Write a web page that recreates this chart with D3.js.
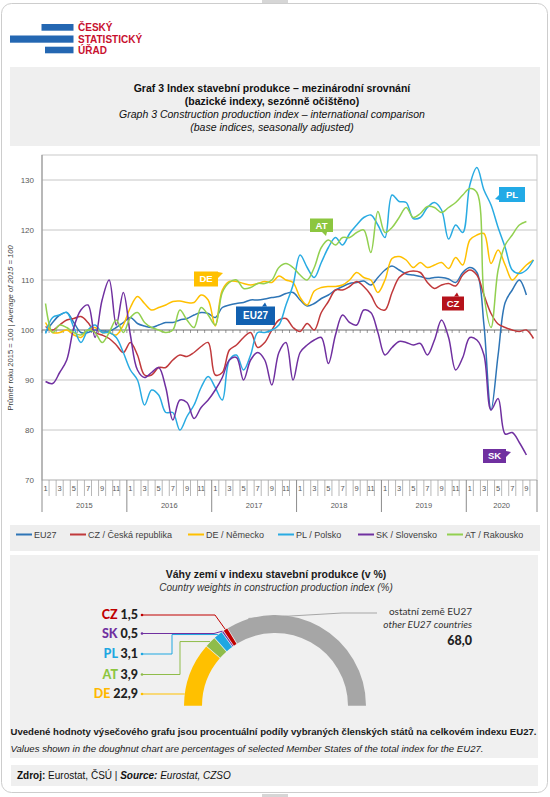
<!DOCTYPE html>
<html><head><meta charset="utf-8">
<script src="https://cdn.jsdelivr.net/npm/d3@7"></script>
<style>
html,body{margin:0;padding:0;background:#fff;}
svg{display:block;font-family:"Liberation Sans",Arial,sans-serif;}
</style></head><body>
<svg id="c" width="550" height="797"></svg>
<script>
// ---------- DATA ----------
const years = ["2015","2016","2017","2018","2019","2020"];
const monthsInYear = [12,12,12,12,12,10];
const yTicks = [70,80,90,100,110,120,130];

const eu27 = [99.5,101.5,103,103.5,101.5,99.5,99.5,100,99.8,99.8,
  100.5,101.5,102.5,101.3,100.8,100.5,101,101.5,101.5,102,
  102.3,103,103.5,103.3,102.5,104.5,105,105.3,105.5,106,
  106,106.2,106.5,106.7,107.3,107.5,106,104.8,105.3,106.3,
  107,108,108.7,109.3,109.5,109.8,109,110.5,112,112.8,
  112,111.2,111,110.7,110.3,110.5,110.5,110.2,109.5,111.5,
  112.5,111.5,101,84,95,105.5,108,110,107,null];
const cz = [100.7,100,101,102,102.3,102.7,101.5,99.5,99,98.3,
  97,95.5,97.5,95,91,91,92.5,92.5,94,95,
  94.7,95.5,96.7,97.5,91,91.5,96,97,98.5,99.5,
  96.5,97.5,100,102,102.3,100.5,99.7,101.3,100,103.5,
  105.7,108,108,108.7,109.7,108.7,107,104.5,104,107.5,
  110.5,111.5,111.8,111.5,109.5,108.3,109,109.3,108.8,111,
  112,111,107,103.3,101.2,100.5,100,99.7,100,98.3];
const de = [101.5,99.5,99.5,100,99,98.5,100,100.5,99.5,99.5,
  99,101,104.5,106.7,105.3,104,104.5,105,105.7,105.8,
  105.5,105.5,107,106,100.8,108,109.7,109.7,109.3,109,
  109.3,109.7,109.5,110.8,110,109.5,106.5,105,107.8,108.5,
  108.7,108.7,109,110,111.5,110.5,110,107.5,110,114.3,
  114.7,114,112.5,113.5,112.5,113,113.5,112.3,114.5,113,
  118,119,119.3,113.3,116,113,110,111.5,113,114];
const pl = [99.3,102.5,103,103.5,100.5,97.5,100,101,99.5,99.5,
  98.5,95.5,92,90,85,88,87,83.5,83.5,80,
  82.7,85,88.5,90.7,88.5,86,94,95,92,95,
  99.5,99.5,100,101,105,109,115,112.5,110.5,113.5,
  116.5,118.5,117,119.3,121,122.5,123,121,118.5,127,
  125.7,125.5,122.3,122.5,124.5,125.5,124,118.2,121,119.5,
  129,132.5,128,125,120.5,116.5,112,111.3,112,114];
const sk = [89.7,89.3,91.5,94,100.5,104,105,98.5,106,110,
  101,107.5,99,92,90.5,91.5,92.5,88.5,82,86,
  85.5,82.3,84.5,86,88,90.5,94,94.5,90,94,
  95.5,94,89,95.5,97.5,90,95.5,97,98,98.5,
  93.3,99,103,101.5,101,104,103.5,99.5,95,96.5,
  97.7,97.5,97,97.3,95,98,102,98.5,92,94.5,
  98.5,98,95,84,86.3,79.2,79.5,77.5,75,null];
const at = [105.3,99.5,101,100.5,99.5,99,100,99.5,97.5,99.5,
  102,99.5,102.5,103.5,101.5,100.5,100,99.5,100,104,
  102,100.5,104.5,103,101,107.5,109.5,110,108.3,108.5,
  109.3,109.3,110,112.5,113.3,112.5,111,110,112.5,116.5,
  118,117,118.5,118.5,119.5,120,115.5,123.7,119.5,120.5,
  122.5,124.5,122.5,123.3,124.7,124.5,123.5,124.5,125.5,127,
  128.3,127.5,107,100.5,112,117,119,121,121.7,null];

const seriesNames = ["EU27","CZ / Česká republika","DE / Německo","PL / Polsko","SK / Slovensko","AT / Rakousko"];
const seriesColors = ["#2e75b6","#c0393b","#ffc000","#29abe2","#7030a0","#92d050"];
const seriesData = [eu27, cz, de, pl, sk, at];
const calloutText = ["EU27","CZ","DE","PL","SK","AT"];
const calloutColors = ["#1160b0","#b5121b","#ffc000","#22aae6","#7030a0","#8cc63f"];

const weightCodes = ["DE","AT","PL","SK","CZ","other"];
const weightValues = [22.9,3.9,3.1,0.5,1.5,68.0];
const weightText = ["22,9","3,9","3,1","0,5","1,5","68,0"];
const weightColors = ["#ffc000","#8fbc4a","#1ea7e1","#7030a0","#c00000","#a6a6a6"];

// ---------- SETUP ----------
const svg = d3.select("#c");
const categories = years.flatMap((yr,k)=> d3.range(1, monthsInYear[k]+1).map(m => yr + "-" + m));

// outer card
svg.append("rect").attr("x",262).attr("y",0).attr("width",26).attr("height",3).attr("fill","#d6d6d6");
svg.append("rect").attr("x",262).attr("y",794).attr("width",26).attr("height",3).attr("fill","#d6d6d6");
svg.append("rect").attr("x",1.5).attr("y",3.5).attr("width",546).attr("height",789).attr("rx",10)
  .attr("fill","#fff").attr("stroke","#cdcdcd");

// logo
const logo = svg.append("g");
[[41.5,24,32,6.7],[10,35.5,63.5,7.2],[45,46.7,28.5,6.6]].forEach(b=>{
  logo.append("rect").attr("x",b[0]).attr("y",b[1]).attr("width",b[2]).attr("height",b[3]).attr("fill","#2467b2");
});
[["ČESKÝ",30.8],["STATISTICKÝ",42.6],["ÚŘAD",53.6]].forEach(t=>{
  logo.append("text").attr("x",78).attr("y",t[1]).text(t[0]).attr("font-size",10).attr("font-weight","bold").attr("fill","#c8102e");
});

// title panel
svg.append("rect").attr("x",10).attr("y",67).attr("width",530).attr("height",79).attr("fill","#efefef");
const titles = [
  ["Graf 3 Index stavební produkce – mezinárodní srovnání", 91.5, "bold", "normal"],
  ["(bazické indexy, sezónně očištěno)", 104.5, "bold", "normal"],
  ["Graph 3 Construction production index – international comparison", 118, "normal", "italic"],
  ["(base indices, seasonally adjusted)", 131, "normal", "italic"]
];
titles.forEach(t=>{
  svg.append("text").attr("x",272).attr("y",t[1]).attr("text-anchor","middle")
    .attr("font-size",10.5).attr("font-weight",t[2]).attr("font-style",t[3]).attr("fill","#111").text(t[0]);
});

// ---------- LINE CHART ----------
const L=42, R=537, T=155, B=480;
const x = d3.scaleBand().domain(categories).range([L,R]).padding(0);
const y = d3.scaleLinear().domain([70,135]).range([B,T]);
const g = svg.append("g");

// gridlines
yTicks.forEach(v=>{
  if (v===100) return;
  g.append("line").attr("x1",L).attr("x2",R).attr("y1",y(v)).attr("y2",y(v))
    .attr("stroke","#c6c6c6").attr("stroke-width",1);
});
g.append("rect").attr("x",L).attr("y",T).attr("width",R-L).attr("height",B-T)
  .attr("fill","none").attr("stroke","#c9c9c9");
// y axis line
g.append("line").attr("x1",L).attr("x2",L).attr("y1",T).attr("y2",B).attr("stroke","#8c8c8c");
// y labels
yTicks.forEach(v=>{
  g.append("text").attr("x",34).attr("y",y(v)).attr("dy","0.35em").attr("text-anchor","end")
    .attr("font-size",8).attr("fill","#595959").text(v);
});
// y title
const yt = g.append("text").attr("transform","translate(13,328) rotate(-90)").attr("text-anchor","middle")
  .attr("font-size",7.6).attr("fill","#404040");
yt.append("tspan").text("Průměr roku 2015 = 100 | ");
yt.append("tspan").attr("font-style","italic").text("Average of 2015 = 100");

// x-axis category labels and separators
const bw = x.bandwidth();
categories.forEach((c,i)=>{
  const x0 = x(c);
  const m = +c.split("-")[1];
  if (m % 2 === 1) {
    g.append("text").attr("x",x0+bw/2).attr("y",491).attr("text-anchor","middle")
      .attr("font-size",7.5).attr("fill","#595959").text(m);
  }
  const yearStart = (m===1);
  g.append("line").attr("x1",x0).attr("x2",x0).attr("y1",B).attr("y2",yearStart?512:496)
    .attr("stroke",yearStart?"#8c8c8c":"#a6a6a6").attr("stroke-width",yearStart?1:0.8);
  // minor ticks on 100 line
  g.append("line").attr("x1",x0).attr("x2",x0).attr("y1",y(100)).attr("y2",y(100)+3)
    .attr("stroke","#7f7f7f").attr("stroke-width",0.8);
});
g.append("line").attr("x1",R).attr("x2",R).attr("y1",B).attr("y2",512).attr("stroke","#8c8c8c");
years.forEach((yr,k)=>{
  const first = x(yr+"-1");
  const last = x(yr+"-"+monthsInYear[k]) + bw;
  g.append("text").attr("x",(first+last)/2).attr("y",507.5).attr("text-anchor","middle")
    .attr("font-size",7.5).attr("fill","#595959").text(yr);
});
// 100 line
g.append("line").attr("x1",L).attr("x2",R).attr("y1",y(100)).attr("y2",y(100))
  .attr("stroke","#6f6f6f").attr("stroke-width",1.1);

// series lines
const line = d3.line()
  .defined(d=>d!=null)
  .x((d,i)=>x(categories[i])+bw/2)
  .y(d=>y(d))
  .curve(d3.curveCatmullRom.alpha(0.5));
seriesData.forEach((s,k)=>{
  g.append("path").attr("d",line(s)).attr("fill","none").attr("stroke",seriesColors[k])
    .attr("stroke-width",1.5).attr("stroke-linejoin","round");
});

// callouts: [index, x, y, w, h, pointer side]
const callouts = [
  [0, 236, 306.5, 39, 18.5, "top", 266],
  [1, 442, 296.5, 22, 14, "top", 458],
  [2, 194, 271.5, 24, 15, "right", 275],
  [3, 499, 187, 26, 15, "left", 199],
  [4, 483, 449, 23, 14, "right", 454],
  [5, 310, 218.5, 23, 13.5, "bottom", 326]
];
callouts.forEach(c=>{
  const [k,bx,by,w,h,side,p] = c;
  const col = calloutColors[k];
  g.append("rect").attr("x",bx).attr("y",by).attr("width",w).attr("height",h).attr("fill",col);
  let tri;
  if (side==="top") tri = [[p-4,by],[p+1,by],[p-1,by-4]];
  else if (side==="bottom") tri = [[p-4,by+h],[p+1,by+h],[p,by+h+4]];
  else if (side==="right") tri = [[bx+w,p-3],[bx+w,p+3],[bx+w+5,p-2]];
  else tri = [[bx,p-4],[bx,p+1],[bx-4,p]];
  g.append("path").attr("d","M"+tri.map(t=>t.join(",")).join("L")+"Z").attr("fill",col);
  g.append("text").attr("x",bx+w/2).attr("y",by+h/2).attr("dy","0.36em").attr("text-anchor","middle")
    .attr("font-size",k===0?10:9.5).attr("font-weight","bold").attr("fill","#fff").text(calloutText[k]);
});

// legend
svg.append("rect").attr("x",10).attr("y",525).attr("width",530).attr("height",26).attr("fill","#eeeeee");
const legX = [16,70,188,278,358,447];
seriesNames.forEach((n,k)=>{
  svg.append("line").attr("x1",legX[k]).attr("x2",legX[k]+16).attr("y1",534.5).attr("y2",534.5)
    .attr("stroke",seriesColors[k]).attr("stroke-width",2);
  svg.append("text").attr("x",legX[k]+18).attr("y",534.5).attr("dy","0.35em")
    .attr("font-size",9).attr("fill","#404040").text(n);
});

// ---------- DOUGHNUT ----------
svg.append("rect").attr("x",10).attr("y",555).attr("width",528).attr("height",203).attr("fill","#f0f0f0");
svg.append("text").attr("x",276).attr("y",577.5).attr("text-anchor","middle").attr("font-size",10.5)
  .attr("font-weight","bold").attr("fill","#1a1a1a").text("Váhy zemí v indexu stavební produkce (v %)");
svg.append("text").attr("x",276).attr("y",590.5).attr("text-anchor","middle").attr("font-size",10)
  .attr("font-style","italic").attr("fill","#333").text("Country weights in construction production index (%)");

const cx=275, cy=706, Ro=91, Ri=73;
const pie = d3.pie().sort(null).startAngle(-Math.PI/2).endAngle(Math.PI/2).padAngle(0.006);
const arcs = pie(weightValues);
const arc = d3.arc().innerRadius(Ri).outerRadius(Ro);
const dg = svg.append("g").attr("transform",`translate(${cx},${cy})`);
dg.selectAll("path").data(arcs).join("path").attr("d",arc).attr("fill",(d,i)=>weightColors[i]);

function outerPt(a){ return [cx + (Ro+0.5)*Math.sin(a), cy - (Ro+0.5)*Math.cos(a)]; }
const mid = d => (d.startAngle+d.endAngle)/2;
const labelY = {CZ:615, SK:633.5, PL:654, AT:674.5, DE:694};
const leaders = [];
// DE
leaders.push([0, `M142,${labelY.DE}H${cx-Math.sqrt(Ro*Ro-(cy-labelY.DE)**2)}`]);
// AT
{ const p=outerPt(mid(arcs[1])); leaders.push([1, `M142,${labelY.AT}H180V${p[1]}H${p[0]}`]); }
// PL
{ const p=outerPt(mid(arcs[2])); leaders.push([2, `M142,${labelY.PL}H172V${p[1]}H${p[0]}`]); }
// SK
{ const p=outerPt(mid(arcs[3])); leaders.push([3, `M142,${labelY.SK}H214L${p[0]},${p[1]}`]); }
// CZ
{ const p=outerPt(mid(arcs[4])); leaders.push([4, `M142,${labelY.CZ}H215L${p[0]},${p[1]}`]); }
// other
{ const a = arcs[5].startAngle + (arcs[5].endAngle-arcs[5].startAngle)*0.12; const p=outerPt(a);
  leaders.push([5, `M${p[0]},${p[1]}L342,613H377`]); }
leaders.forEach(l=>{
  svg.append("path").attr("d",l[1]).attr("fill","none").attr("stroke",weightColors[l[0]]).attr("stroke-width",1);
  if (l[0]<5) svg.append("circle").attr("cx",142).attr("cy",labelY[weightCodes[l[0]]]).attr("r",1.3).attr("fill",weightColors[l[0]]);
});
const codeColors = {DE:"#ffb800", AT:"#8cc63f", PL:"#1ea7e1", SK:"#7030a0", CZ:"#c00000"};
["CZ","SK","PL","AT","DE"].forEach(code=>{
  const k = weightCodes.indexOf(code);
  const t = svg.append("text").attr("x",138).attr("y",labelY[code]+4.2).attr("text-anchor","end")
    .attr("font-family","Lato, 'Liberation Sans', sans-serif").attr("font-size",12.5).attr("font-weight","900");
  t.append("tspan").attr("fill",codeColors[code]).text(code+" ");
  t.append("tspan").attr("fill","#222").text(weightText[k]);
});
svg.append("text").attr("x",472).attr("y",615).attr("text-anchor","end").attr("font-family","Lato, sans-serif")
  .attr("font-size",10).attr("fill","#333").text("ostatní země EU27");
svg.append("text").attr("x",472).attr("y",628).attr("text-anchor","end").attr("font-family","Lato, sans-serif")
  .attr("font-size",10).attr("font-style","italic").attr("fill","#333").text("other EU27 countries");
svg.append("text").attr("x",472).attr("y",645).attr("text-anchor","end").attr("font-family","Lato, sans-serif")
  .attr("font-size",12.5).attr("font-weight","900").attr("fill","#222").text(weightText[5]);

// notes
svg.append("text").attr("x",10.5).attr("y",734.5).attr("font-size",8.6).attr("font-weight","bold")
  .attr("fill","#1a1a1a").attr("textLength",526).attr("lengthAdjust","spacingAndGlyphs")
  .text("Uvedené hodnoty výsečového grafu jsou procentuální podíly vybraných členských států na celkovém indexu EU27.");
svg.append("text").attr("x",10.5).attr("y",752).attr("font-size",8.6).attr("font-style","italic")
  .attr("fill","#1a1a1a").attr("textLength",473).attr("lengthAdjust","spacingAndGlyphs")
  .text("Values shown in the doughnut chart are percentages of selected Member States of the total index for the EU27.");

// source
svg.append("rect").attr("x",11).attr("y",765).attr("width",527).attr("height",21).attr("fill","#efefef");
const src = svg.append("text").attr("x",17).attr("y",779).attr("font-size",10).attr("fill","#111");
src.append("tspan").attr("font-weight","bold").text("Zdroj:");
src.append("tspan").text(" Eurostat, ČSÚ | ");
src.append("tspan").attr("font-weight","bold").attr("font-style","italic").text("Source:");
src.append("tspan").attr("font-style","italic").text(" Eurostat, CZSO");
</script>
</body></html>
